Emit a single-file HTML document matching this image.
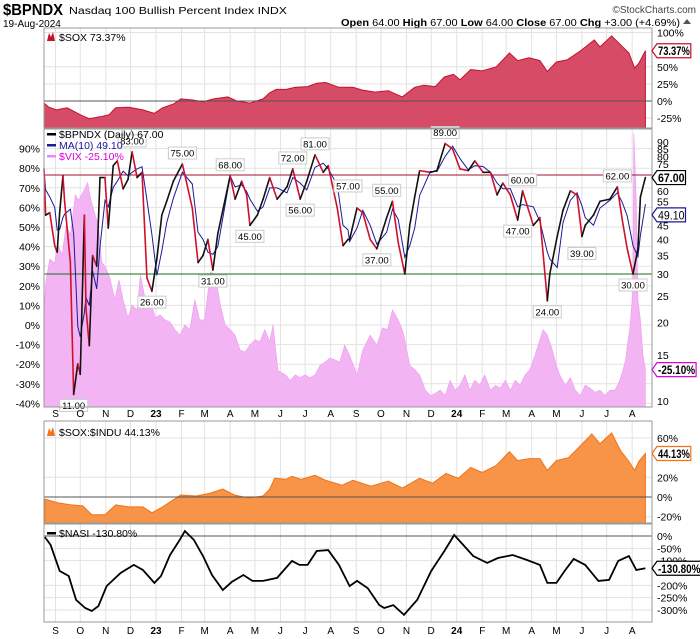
<!DOCTYPE html>
<html><head><meta charset="utf-8">
<style>
body{margin:0;background:#fff;}
svg{display:block;font-family:"Liberation Sans",sans-serif;}
</style></head>
<body>
<svg id="chart" width="700" height="639" viewBox="0 0 700 639" xmlns="http://www.w3.org/2000/svg">
  <g>
    <text x="3" y="15" font-size="16" font-weight="bold" textLength="60" lengthAdjust="spacingAndGlyphs">$BPNDX</text>
    <text x="69" y="14" font-size="10" textLength="218" lengthAdjust="spacingAndGlyphs">Nasdaq 100 Bullish Percent Index  INDX</text>
    <text x="696" y="13" font-size="10" fill="#444" text-anchor="end">©StockCharts.com</text>
    <text x="3" y="27" font-size="10">19-Aug-2024</text>
    <text x="341" y="26" font-size="10" textLength="339" lengthAdjust="spacingAndGlyphs"><tspan font-weight="bold">Open</tspan> 64.00 <tspan font-weight="bold">High</tspan> 67.00 <tspan font-weight="bold">Low</tspan> 64.00 <tspan font-weight="bold">Close</tspan> 67.00 <tspan font-weight="bold">Chg</tspan> +3.00 (+4.69%)</text>
    <path d="M683 24 L687 19 L691 24 Z" fill="#555"/>
  </g>
  <g id="grid"></g>
  <g id="series"></g>
  <g id="frames"></g>
  <g id="labels"></g>
</svg>
<script>
// ---- data (t = days since 2022-08-18) ----
const soxT = [0,6,15,28,44,55,68,79,87,103,120,134,144,158,166,180,193,206,223,234,250,266,274,282,294,305,320,331,342,358,375,386,402,418,435,450,461,475,486,497,505,518,532,549,565,575,589,602,611,622,635,651,668,675,689,700,710,717,722,730];
const soxV = [-3,-9,-13,-10,-20,-26,-23,-20,-10,-9,-13,-18,-10,-4,3,1.5,-1,3,6,0,-3,3,12,17,17,20,21,26,27,20,20,16,13,15,6,20,23,21,35,39,31,46,44,50,70,59,63,59,43,57,60,73,89,79,95,82,70,48,55,73.37];

const bpT = [0,2,7,13,16,19,23,25,32,36,41,44,49,51,55,59,64,68,74,78,84,89,96,102,107,113,119,125,131,137,143,149,157,168,180,187,193,199,205,211,226,232,240,246,250,259,266,274,283,295,302,311,319,329,339,345,356,363,369,371,380,387,396,404,416,423,430,438,444,450,456,469,477,487,496,505,515,523,533,542,550,557,566,575,581,594,602,611,614,623,630,639,647,653,657,667,675,687,696,702,708,715,721,724,730];
const bpV = [72,49,50,38,36,50,68,55,33,11,14.2,13,49,22.5,16.5,35,32,67,67,44,74,77,61,66,83,67,70,29,26,34,49,55,65,75,52,33,35,40,31,42,68,56,65,58,45,49,56,67,56,62,72,56,65,81,70,74,52,38,40,40,52,50,40,37,48,55,39,30,45,57,71,70,71,89,85,72,71,77,70,70,58,64,58,47,60,45,48,24,30,41,51,60,58,41,45,49,55,56,62,47,37,30,37,57,67];

const vixT = [0,2,7,13,17,22,27,32,38,42,49,53,57,62,66,70,75,80,86,91,96,102,107,113,117,123,129,135,141,147,153,159,165,171,177,183,189,195,202,208,214,220,226,232,238,244,250,256,262,268,274,278,284,293,299,305,311,317,323,329,335,341,347,353,359,365,371,380,387,396,404,411,417,423,430,435,438,444,450,456,463,469,475,481,487,493,499,505,511,517,523,529,535,542,548,554,560,566,572,578,584,590,596,602,606,611,617,622,626,633,639,645,651,657,663,669,675,681,687,693,699,703,706,709,711,715,716,719,721,724,727,730];
const vixV = [20.9,28.4,35.1,33.9,39.8,36.4,47.5,43.5,62,59,65,69,59,52,47.5,34.2,32.5,29.7,24.5,29.2,24.5,20.9,23.4,22.4,30.5,24.5,24.5,20.9,21.4,20.5,20.1,18.8,17.9,19.6,18.8,24.5,20.5,20.5,31.3,30.5,23.4,19.6,18.8,17.9,15.7,15.4,16.4,17.2,16.9,18.8,16.9,19.6,13.1,12.6,12,12.6,12.3,12.6,12.3,12.6,13.7,14.1,14.6,14.4,14.1,16.4,15,12.6,15.7,17.9,16.4,19.1,18.8,22.4,20.5,18.8,17.2,13.7,13.2,12.6,11,10.5,10.7,11,10.5,12,11,11.5,12.6,11,12,11.5,12.6,11,11.5,11.2,12,11,12,11.5,12.6,13.2,15,17.2,18.8,17.9,15.7,13.7,12.6,11.5,12.3,11,10.5,11.5,11.2,10.8,11,10.5,11,11,12,13.2,14.4,17.2,18.8,26.7,107,59,24.5,20.5,15,13.2];

const ratioT = [1,17,33,47,58,74,87,103,120,131,144,155,166,185,202,217,231,248,266,274,280,294,301,312,329,342,362,375,397,418,435,456,472,488,503,518,532,549,565,575,589,602,611,622,637,651,665,675,689,700,710,717,722,730];
const ratioV = [-2,-6,-8,-9,-18,-18,-8,-10,-10,-16,-10,-4,2,1,4,8,2,-1,1,8,19,18,21,18,22,17,12,17,11,16,9,19,14,24,19,30,25,32,46,37,39,39,27,37,40,52,64,54,65,47,36,27,36,44.13];

const nasiT = [1,8,19,30,39,50,58,66,76,93,109,120,134,142,153,164,171,182,193,204,217,228,242,253,266,283,301,310,320,331,345,358,371,380,393,407,413,424,437,453,470,486,498,510,521,538,551,569,586,602,611,622,632,643,657,673,686,697,710,719,730];
const nasiV = [-4,-36,-142,-162,-259,-292,-304,-284,-203,-150,-117,-138,-190,-162,-77,-20,20,-16,-81,-158,-219,-186,-158,-182,-182,-170,-101,-117,-117,-61,-57,-117,-203,-182,-211,-280,-292,-280,-320,-259,-142,-61,4,-40,-81,-109,-89,-77,-97,-117,-190,-190,-142,-93,-117,-182,-178,-101,-81,-138,-130.8];

const monthT = [14,44,75,105,136,167,195,226,256,287,317,348,379,409,440,470,501,532,561,592,622,653,683,714];
const monthLabels = ["S","O","N","D","23","F","M","A","M","J","J","A","S","O","N","D","24","F","M","A","M","J","J","A"];

const annT = [36,107,131,168,205,226,250,302,311,329,369,404,416,487,581,575,611,653,696,715];
const annV = [11,83,26,75,31,68,45,72,56,81,57,37,55,89,60,47,24,39,62,30];
const annText = ["11.00","83.00","26.00","75.00","31.00","68.00","45.00","72.00","56.00","81.00","57.00","37.00","55.00","89.00","60.00","47.00","24.00","39.00","62.00","30.00"];
const annBelow = [1,0,1,0,1,0,1,0,1,0,0,1,0,0,0,1,1,1,0,1];

const p1Ticks = [100,50,25,0,-25];
const p2LeftTicks = [90,80,70,60,50,40,30,20,10,0,-10,-20,-30,-40];
const p2RightTicks = [90,85,80,75,60,55,45,40,35,30,25];
const vixTicks = [20,15,10];
const p3Ticks = [60,20,0,-20];
const p4Ticks = [0,-50,-100,-200,-250,-300];

// ---- layout ----
const X0 = 44, X1 = 652, TMAX = 732;
const P1 = {top:28, bot:128}, P2 = {top:129, bot:407}, P3 = {top:421, bot:523}, P4 = {top:524, bot:622};
const NS = "http://www.w3.org/2000/svg";
function xT(t){ return X0 + t * 603 / TMAX; }
function y1(p){ return 101 - 0.685 * p; }
function y2(v){ return 274 - 120 * Math.log(v / 30); }
function y2p(p){ return 325 - 1.96 * p; }
function yVix(v){ return 401 - 113 * Math.log(v / 10); }
function y3(p){ return 497 - 0.985 * p; }
function y4(p){ return 536 + 0.2467 * (-p); }
function mk(tag, attrs, parent){
  const e = document.createElementNS(NS, tag);
  for (const k in attrs) e.setAttribute(k, attrs[k]);
  parent.appendChild(e); return e;
}
const grid = document.getElementById('grid'), series = document.getElementById('series'),
      frames = document.getElementById('frames'), labels = document.getElementById('labels');

[P1,P2,P3,P4].forEach(P => {
  monthT.forEach(t => {
    const l = mk('line', {x1:xT(t), x2:xT(t), y1:P.top, y2:P.bot, stroke:'#e2e2e2', 'stroke-width':1}, grid);
    
    
  });
});
function hgrid(y, parent){
  const l = mk('line', {x1:X0, x2:X1, y1:y, y2:y, stroke:'#e2e2e2', 'stroke-width':1}, parent);
  
  
}
p1Ticks.forEach(p => hgrid(y1(p), grid));
p2LeftTicks.forEach(p => hgrid(y2p(p), grid));
p3Ticks.forEach(p => hgrid(y3(p), grid));
p4Ticks.forEach(p => hgrid(y4(p), grid));

function areaPath(T, V, fx, fy, base){
  let d = 'M' + fx(T[0]) + ' ' + base;
  T.forEach((t,i) => { d += ' L' + fx(t).toFixed(1) + ' ' + fy(V[i]).toFixed(1); });
  d += ' L' + fx(T[T.length-1]).toFixed(1) + ' ' + base + ' Z';
  return d;
}
function linePath(T, V, fx, fy){
  return T.map((t,i) => (i ? 'L' : 'M') + fx(t).toFixed(1) + ' ' + fy(V[i]).toFixed(1)).join(' ');
}

let e = mk('path', {d:areaPath(soxT, soxV, xT, y1, P1.bot), fill:'#d64b65', stroke:'#c8102e', 'stroke-width':1}, series);


e = mk('line', {x1:X0, x2:X1, y1:y1(0), y2:y1(0), stroke:'#555', 'stroke-width':1}, series);



e = mk('path', {d:areaPath(vixT, vixV, xT, v => Math.max(P2.top+1, yVix(v)), P2.bot), fill:'#f3b4f3', stroke:'#f09af0', 'stroke-width':0.6}, series);


e = mk('line', {x1:X0, x2:X1, y1:175, y2:175, stroke:'#a0102a', 'stroke-width':1}, series);


e = mk('line', {x1:X0, x2:X1, y1:y2(30), y2:y2(30), stroke:'#1a6e1a', 'stroke-width':1}, series);


const maV = bpV.map((v,i) => {
  let s = 0, n = 0;
  for (let j = i; j >= 0 && bpT[i] - bpT[j] <= 14; j--) { s += bpV[j]; n++; }
  return s / n;
});
e = mk('path', {d:linePath(bpT, maV, xT, y2), fill:'none', stroke:'#1a1a9a', 'stroke-width':1}, series);


for (let i = 1; i < bpT.length; i++) {
  const down = bpV[i] < bpV[i-1];
  const s = mk('line', {x1:xT(bpT[i-1]), y1:y2(bpV[i-1]), x2:xT(bpT[i]), y2:y2(bpV[i]), stroke: down ? '#d0102a' : '#111', 'stroke-width':1.6, 'stroke-linecap':'round'}, series);
  
  
}
annT.forEach((t,i) => {
  const x = xT(t), y = y2(annV[i]);
  const below = annBelow[i];
  const by = below ? y + 5 : y - 17;
  const g = mk('g', {}, series);
  
  
  mk('rect', {x:x-14, y:by, width:28, height:12, fill:'#fff', stroke:'#ccc', 'stroke-width':1}, g);
  const tx = mk('text', {x:x, y:by+9.5, 'font-size':9.5, 'text-anchor':'middle', fill:'#000'}, g);
  tx.textContent = annText[i];
});

e = mk('path', {d:areaPath(ratioT, ratioV, xT, y3, P3.bot), fill:'#f79447', stroke:'#f07318', 'stroke-width':1}, series);


e = mk('line', {x1:X0, x2:X1, y1:y3(0), y2:y3(0), stroke:'#555', 'stroke-width':1}, series);



e = mk('line', {x1:X0, x2:X1, y1:y4(0), y2:y4(0), stroke:'#555', 'stroke-width':1}, series);


e = mk('path', {d:linePath(nasiT, nasiV, xT, y4), fill:'none', stroke:'#000', 'stroke-width':1.8}, series);



[P1,P2,P3,P4].forEach(P => {
  const r = mk('rect', {x:X0, y:P.top, width:X1-X0, height:P.bot-P.top, fill:'none', stroke:'#999', 'stroke-width':1}, frames);
  
  
});

function txt(x, y, s, opts){
  const t = mk('text', Object.assign({x:x, y:y, 'font-size':10.5, fill:'#000'}, opts||{}), labels);
  t.textContent = s; return t;
}
p1Ticks.forEach(p => { const t = txt(657, y1(p)+4, p + '%');   });
p2LeftTicks.forEach(p => { const t = txt(40, y2p(p)+4, p + '%', {'text-anchor':'end'});   });
p2RightTicks.forEach(v => { const t = txt(657, y2(v)+4, String(v));   });
vixTicks.forEach(v => { const t = txt(657, yVix(v)+4, String(v));   });
p3Ticks.forEach(p => { const t = txt(657, y3(p)+4, p + '%');   });
p4Ticks.forEach(p => { const t = txt(657, y4(p)+4, p + '%');   });
[417, 634].forEach(yy => {
  monthT.forEach((t,i) => {
    const bold = monthLabels[i].length === 2;
    const m = txt(xT(t), yy, monthLabels[i], {'text-anchor':'middle', 'font-size':10, 'font-weight': bold ? 'bold' : 'normal'});
    
    
  });
});

function tag(y, s, color, bold){
  const g = mk('g', {}, labels);
  
  
  const w = s.length * 5.3 + 2;
  mk('path', {d:`M${X1} ${y} L${X1+5} ${y-7} L${X1+5+w} ${y-7} L${X1+5+w} ${y+7} L${X1+5} ${y+7} Z`, fill:'#fff', stroke:color, 'stroke-width':1.2}, g);
  const t = mk('text', {x:X1+6, y:y+4.5, 'font-size':12, 'font-weight': bold ? 'bold' : 'normal', fill:'#000', textLength: w-2, lengthAdjust:'spacingAndGlyphs'}, g);
  t.textContent = s;
}
tag(y1(73.37), '73.37%', '#c8102e', true);
tag(y2(67), '67.00', '#000', true);
tag(y2(49.1), '49.10', '#1a1a9a', false);
tag(yVix(13.2), '-25.10%', '#e000e0', true);
tag(y3(44.13), '44.13%', '#f07318', true);
tag(y4(-130.8), '-130.80%', '#000', true);

function legend(y, s, color, icon){
  const g = mk('g', {}, labels);
  
  
  if (icon === 'area') mk('path', {d:`M47 ${y+1} L49 ${y-7} L51 ${y-3} L53 ${y-8} L55 ${y+1} Z`, fill:color}, g);
  else mk('rect', {x:47, y:y-4, width:9, height:2.5, fill:color}, g);
  const t = mk('text', {x:59, y:y+1, 'font-size':10.5, fill: icon==='vix' ? '#e000e0' : (icon==='ma' ? '#1a1a9a' : '#000')}, g);
  t.textContent = s;
}
legend(40, '$SOX 73.37%', '#c8102e', 'area');
legend(137, '$BPNDX (Daily) 67.00', '#000', 'line');
legend(148, 'MA(10) 49.10', '#1a1a9a', 'ma');
legend(159, '$VIX -25.10%', '#ee88ee', 'vix');
legend(435, '$SOX:$INDU 44.13%', '#f07318', 'area');
legend(536, '$NASI -130.80%', '#000', 'line');
</script>
</body></html>
